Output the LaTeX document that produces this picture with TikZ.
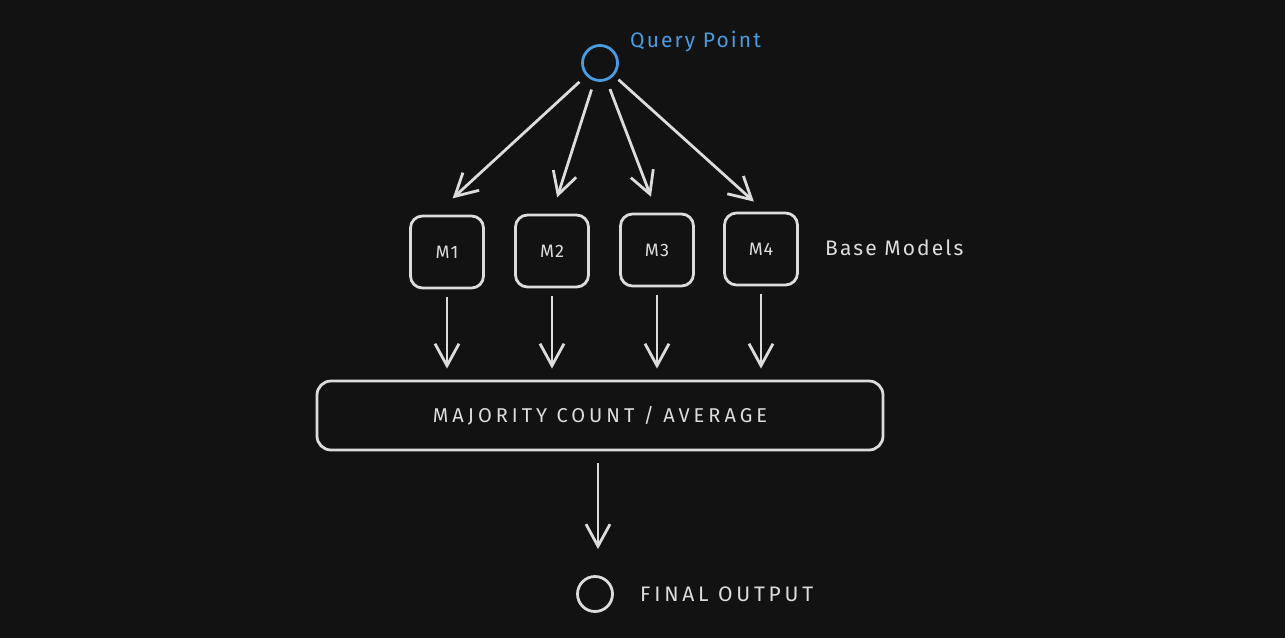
\documentclass[tikz,border=0pt]{standalone}
\usepackage{fontspec}
\setmainfont{Fira Sans}
\usetikzlibrary{arrows.meta}
\definecolor{bg}{HTML}{121212}
\definecolor{ink}{HTML}{DCDCDC}
\definecolor{qblue}{HTML}{4A9BE0}
\newcommand{\spaced}[1]{\addfontfeature{LetterSpace=#1}}
\tikzset{
  model/.style={draw=ink, line width=2.8pt, rounded corners=12pt, minimum width=73pt,
    minimum height=72pt, text=ink, font=\fontsize{18}{20}\selectfont\spaced{6}},
  dot/.style={draw=ink, line width=2.8pt, circle, minimum size=35pt, inner sep=0pt},
  arr/.style={draw=ink, line width=2.8pt, -{Straight Barb[length=22pt,width=24pt]}},
  lbl/.style={text=ink, anchor=west, inner sep=0pt, font=\fontsize{21}{24}\selectfont\spaced{10}}
}
\begin{document}
\begin{tikzpicture}[x=1pt,y=-1pt]
\fill[bg] (0,0) rectangle (1285,638);
\useasboundingbox (0,0) rectangle (1285,638);

%query point
\node[dot, draw=qblue] (q) at (600,63) {};
\node[lbl, text=qblue] (ql) at (630,42) {Query Point};

%base models
\node[model] (m1) at (447,252) {M1};
\node[model] (m2) at (552,251) {M2};
\node[model] (m3) at (657,250) {M3};
\node[model] (m4) at (761,249) {M4};
\node[lbl] (bl) at (825,248) {Base Models};

\draw[arr, shorten <=9pt, shorten >=24pt] (q) -- ([xshift=-12pt]m1.north);
\draw[arr, shorten <=9pt, shorten >=17pt] (q) -- (m2.north);
\draw[arr, shorten <=9pt, shorten >=17pt] (q) -- (m3.north);
\draw[arr, shorten <=6pt, shorten >=15pt] (q) -- ([xshift=4pt]m4.north);

%combine
\node[model, minimum width=566pt, minimum height=69pt, rounded corners=14pt,
  font=\fontsize{20}{24}\selectfont\spaced{20}] (maj) at (600,415.5) {MAJORITY COUNT / AVERAGE};

\foreach \m in {m1,m2,m3,m4}
  \draw[arr, shorten <=8pt, shorten >=11pt] (\m) -- (\m |- maj.north);

%output
\node[dot] (out) at (595,594) {};
\node[lbl, font=\fontsize{21}{24}\selectfont\spaced{18}] (ol) at (640,594) {FINAL OUTPUT};
\draw[arr, shorten <=12pt, shorten >=26pt] (maj.south -| 598,0) -- (out.north -| 598,0);
\end{tikzpicture}
\end{document}
